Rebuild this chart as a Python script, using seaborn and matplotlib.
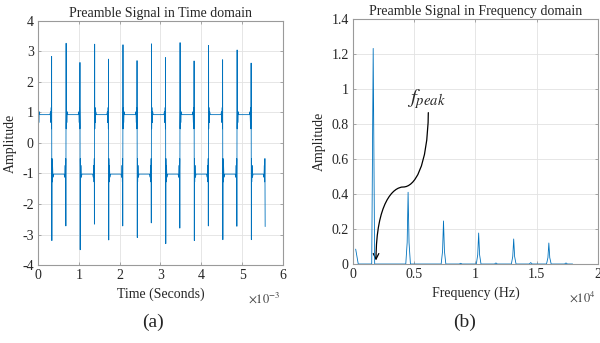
import numpy as np
import pandas as pd
import matplotlib
matplotlib.use("Agg")
import matplotlib.pyplot as plt
import seaborn as sns
from matplotlib.path import Path
from matplotlib.patches import FancyArrowPatch
from matplotlib.ticker import FuncFormatter, MultipleLocator

# ---- time domain (time in ms) ----
transition_ms = [0.337, 0.686, 1.031, 1.385, 1.730, 2.079, 2.429, 2.778,
                 3.127, 3.477, 3.826, 4.175, 4.525, 4.874, 5.223]
end_ms = 5.564
high_level = 0.93
low_level = -1.02
spike_entry = [3.11, -3.20, 3.27, -3.50, 3.24, -3.18, 3.22, -3.10,
               3.25, -3.30, 3.29, -3.20, 3.20, -3.17, 3.05, -3.17]
spike_exit = [2.84, -2.72, 2.64, -2.66, 2.75, -2.72, 2.70, -2.62,
              2.80, -2.79, 2.69, -2.72, 2.73, -2.73, 2.62, -2.74]
# ringing next to every edge: offset from the edge (ms) and relative level
ripple_dt_ms = [0.006, 0.012, 0.020, 0.030, 0.045]
ripple_gain = [0.5, 1.25, 0.72, 1.1, 1.0]

# ---- frequency domain (Hz) ----
dc_freq = [220, 430]
dc_amp = [0.085, 0.0]
peak_freq = [1650, 4500, 7390, 10260, 13120, 15990]
peak_amp = [1.232, 0.41, 0.246, 0.177, 0.143, 0.12]
peak_halfwidth = [120, 190, 190, 190, 190, 190]
minor_freq = [8790, 11670, 14510, 17390]
minor_amp = [0.004, 0.006, 0.008, 0.006]
spec_end = 17930

blue = "#0072BD"

# build the time trace
bounds = [0.0] + transition_ms + [end_ms]
t_pts, y_pts = [], []
for i in range(len(bounds) - 1):
    a, b = bounds[i], bounds[i + 1]
    level = high_level if i % 2 == 0 else low_level
    t_pts.append(a + (0 if i == 0 else 0.003))
    y_pts.append(spike_entry[i])
    for d, g in zip(ripple_dt_ms, ripple_gain):
        t_pts.append(a + d)
        y_pts.append(level * g)
    for d, g in zip(ripple_dt_ms[::-1], ripple_gain[::-1]):
        t_pts.append(b - d)
        y_pts.append(level * g)
    t_pts.append(b - (0 if i == len(bounds) - 2 else 0.003))
    y_pts.append(spike_exit[i])
df_time = pd.DataFrame({"t": np.array(t_pts) * 1e-3, "amp": y_pts})

# build the spectrum trace
feats = []
for f, a, w in zip(peak_freq, peak_amp, peak_halfwidth):
    if a > 1:
        feats.append([(f - w, 0.0), (f, a), (f + w, 0.0)])
    else:
        feats.append([(f - w, 0.0), (f - 0.4 * w, 0.3 * a), (f, a),
                      (f + 0.4 * w, 0.3 * a), (f + w, 0.0)])
for f, a in zip(minor_freq, minor_amp):
    feats.append([(f - 120, 0.0), (f, a), (f + 120, 0.0)])
feats.sort(key=lambda p: p[0][0])
fx = list(dc_freq)
fy = list(dc_amp)
for pts in feats:
    for x, y in pts:
        fx.append(x)
        fy.append(y)
fx.append(spec_end)
fy.append(0.0)
df_freq = pd.DataFrame({"f": fx, "amp": fy})

sns.set_theme(style="whitegrid")
plt.rcParams["font.family"] = ["Liberation Serif", "DejaVu Serif"]
plt.rcParams["mathtext.fontset"] = "stix"
plt.rcParams["axes.unicode_minus"] = False

fig = plt.figure(figsize=(6, 3.43), dpi=100)
ax1 = fig.add_axes([0.0633, 0.2274, 0.4083, 0.7114])
ax2 = fig.add_axes([0.5883, 0.2303, 0.4083, 0.7143])

sns.lineplot(data=df_time, x="t", y="amp", ax=ax1, sort=False,
             estimator=None, color=blue, lw=0.6)
sns.lineplot(data=df_freq, x="f", y="amp", ax=ax2, sort=False,
             estimator=None, color=blue, lw=0.6)

fmt_g = FuncFormatter(lambda v, p: f"{round(v, 6) + 0.0:g}")

ax1.set_xlim(0, 6e-3)
ax1.set_ylim(-4, 4)
ax1.xaxis.set_major_locator(MultipleLocator(1e-3))
ax1.xaxis.set_major_formatter(FuncFormatter(lambda v, p: f"{round(v * 1e3, 6) + 0.0:g}"))
ax1.yaxis.set_major_locator(MultipleLocator(1))
ax1.yaxis.set_major_formatter(fmt_g)
ax1.set_title("Preamble Signal in Time domain", fontsize=10, pad=3)
ax1.set_xlabel("Time (Seconds)", fontsize=10)
ax1.set_ylabel("Amplitude", fontsize=10)
ax1.text(0.99, -0.105, r"$\times10^{-3}$", transform=ax1.transAxes,
         ha="right", va="top", fontsize=9, color="#404040")

ax2.set_xlim(0, 2e4)
ax2.set_ylim(0, 1.4)
ax2.xaxis.set_major_locator(MultipleLocator(5e3))
ax2.xaxis.set_major_formatter(FuncFormatter(lambda v, p: f"{round(v / 1e4, 6) + 0.0:g}"))
ax2.yaxis.set_major_locator(MultipleLocator(0.2))
ax2.yaxis.set_major_formatter(fmt_g)
ax2.set_title("Preamble Signal in Frequency domain", fontsize=10, pad=3)
ax2.set_xlabel("Frequency (Hz)", fontsize=10)
ax2.set_ylabel("Amplitude", fontsize=10)
ax2.text(0.99, -0.105, r"$\times10^{4}$", transform=ax2.transAxes,
         ha="right", va="top", fontsize=9, color="#404040")

for ax in (ax1, ax2):
    ax.set_facecolor("white")
    ax.grid(True, color="#e2e2e2", lw=0.6)
    for s in ax.spines.values():
        s.set_visible(True)
        s.set_color("#9a9a9a")
        s.set_linewidth(0.8)
    ax.tick_params(direction="in", length=2.5, width=0.6, color="#9a9a9a",
                   top=True, right=True, bottom=True, left=True,
                   labelsize=10, labelcolor="#262626", pad=3)

# f_peak annotation
ax2.text(6000, 0.945, r"$f_{peak}$", fontsize=15, ha="center", va="center")
verts = [(6150, 0.865), (6100, 0.55), (5000, 0.44), (4100, 0.44),
         (3300, 0.44), (1900, 0.35), (1880, 0.02)]
codes = [Path.MOVETO] + [Path.CURVE4] * 6
arrow = FancyArrowPatch(path=Path(verts, codes), arrowstyle="->",
                        mutation_scale=10, color="black", lw=0.9,
                        transform=ax2.transData)
ax2.add_patch(arrow)

fig.text(0.255, 0.06, "(a)", fontsize=14, ha="center", va="center")
fig.text(0.775, 0.06, "(b)", fontsize=14, ha="center", va="center")

fig.savefig("out.png", dpi=100, facecolor="white")
